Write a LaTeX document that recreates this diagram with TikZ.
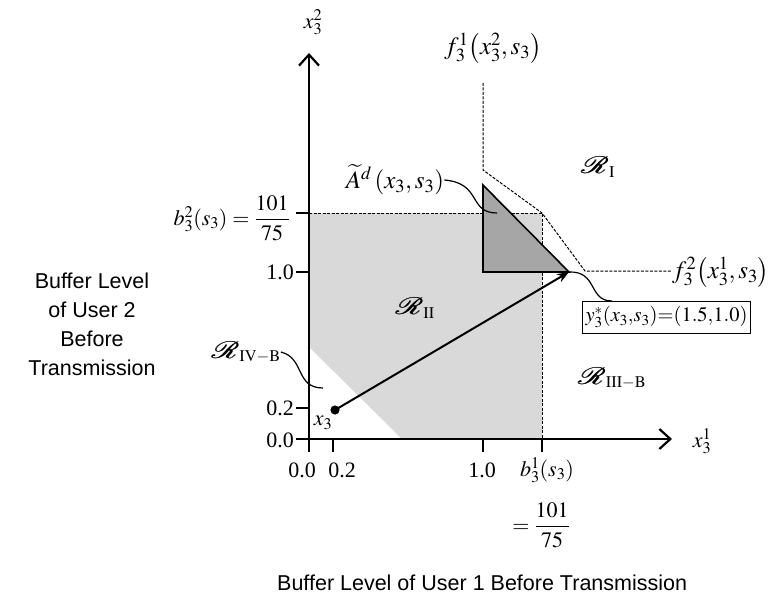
\documentclass[tikz,border=0pt]{standalone}
\usepackage{mathptmx}
\usepackage{mathrsfs}
\usepackage{graphicx}
\usepackage{fontspec}
\setmainfont{Liberation Serif}
\newfontfamily\arialfont{Liberation Sans}
\usetikzlibrary{arrows.meta}
\definecolor{lightreg}{HTML}{D9D9D9}
\definecolor{darkreg}{HTML}{A6A6A6}
\newcommand\scrR{\mbox{\scalebox{1.45}[1.15]{\rlap{$\mathscr{R}$}\kern0.5pt$\mathscr{R}$}}}
\tikzset{
  lbl/.style={font=\fontsize{22}{26}\selectfont, inner sep=0pt},
  biglbl/.style={font=\fontsize{25}{28}\selectfont, inner sep=0pt},
  sans/.style={font=\arialfont\fontsize{21.5}{29}\selectfont, align=center, inner sep=0pt},
  axisline/.style={line width=2.2pt, -{Straight Barb[length=11pt,width=20pt]}},
  tickline/.style={line width=1.6pt},
  guide/.style={line width=1pt, dash pattern=on 3pt off 1.5pt},
  leader/.style={line width=1.2pt},
  boxlbl/.style={draw, line width=1.2pt, font=\fontsize{20.5}{24}\selectfont, inner xsep=3pt, inner ysep=5pt},
}
\begin{document}
\begin{tikzpicture}[x=1pt,y=-1pt]
\useasboundingbox (0,0) rectangle (775,596);
% key coordinates
\coordinate (O) at (309,439);
\coordinate (ytip) at (309,53);
\coordinate (xtip) at (672,439);
\coordinate (ybot) at (309,452);
\coordinate (xleft) at (296,439);
% light region
\fill[lightreg] (309,213) -- (542,213) -- (542,439) -- (402,439) -- (309,347) -- cycle;
% b-level guides
\coordinate (b2l) at (309,213);
\coordinate (bc) at (542,213);
\coordinate (b1b) at (542,439);
\draw[guide] (b2l) -- (bc) -- (b1b);
% f curves
\coordinate (f1) at (483,83);
\coordinate (f2) at (483,170);
\coordinate (f3) at (542,213);
\coordinate (f4) at (585,271);
\coordinate (f5) at (672,271);
\draw[guide] (f1) -- (f2) -- (f3) -- (f4) -- (f5);
% dark triangle
\coordinate (ta) at (483,185);
\coordinate (tb) at (483,272);
\coordinate (tc) at (569,272);
\draw[fill=darkreg, line width=1.6pt] (ta) -- (tb) -- (tc) -- cycle;
% axes
\draw[axisline] (ybot) -- (ytip);
\draw[axisline] (xleft) -- (xtip);
% ticks
\coordinate (ty02a) at (296,408); \coordinate (ty02b) at (309,408);
\coordinate (ty10a) at (296,272); \coordinate (ty10b) at (309,272);
\coordinate (tybba) at (296,213); \coordinate (tybbb) at (309,213);
\draw[tickline] (ty02a) -- (ty02b);
\draw[tickline] (ty10a) -- (ty10b);
\draw[tickline] (tybba) -- (tybbb);
\coordinate (tx02a) at (333,439); \coordinate (tx02b) at (333,452);
\coordinate (tx10a) at (483,439); \coordinate (tx10b) at (483,452);
\coordinate (txbba) at (542,439); \coordinate (txbbb) at (542,452);
\draw[tickline] (tx02a) -- (tx02b);
\draw[tickline] (tx10a) -- (tx10b);
\draw[tickline] (txbba) -- (txbbb);
% vector
\coordinate (x3) at (335,410);
\draw[line width=2pt, -{Stealth[length=12pt,width=9pt]}] (x3) -- (tc);
\fill (x3) circle (4.6pt);
% labels
\node[lbl] (lx32) at (313,22) {$x_3^2$};
\node[lbl] (lx31) at (702,441) {$x_3^1$};
\node[biglbl] (lf1) at (493,48) {$f_3^1\bigl(x_3^2, s_3\bigr)$};
\node[biglbl, anchor=west] (lf2) at (672,272) {$f_3^2\bigl(x_3^1, s_3\bigr)$};
\node[lbl] (rI) at (598,167) {$\scrR_{\mathrm{I}}$};
\node[lbl] (rII) at (415,308) {$\scrR_{\mathrm{II}}$};
\node[lbl] (rIII) at (612,378) {$\scrR_{\mathrm{III-B}}$};
\node[lbl] (rIV) at (246,352) {$\scrR_{\mathrm{IV-B}}$};
\node[biglbl] (lA) at (395,180) {$\widetilde{A}^{d}\,(x_3, s_3)$};
\node[lbl, anchor=east] (lb2) at (290,218) {$b_3^2(s_3)=\displaystyle\frac{101}{75}$};
\node[lbl, anchor=east] (ly10) at (294,272) {1.0};
\node[lbl, anchor=east] (ly02) at (294,408) {0.2};
\node[lbl, anchor=east] (ly00) at (294,440) {0.0};
\node[lbl] (lx00) at (302,470) {0.0};
\node[lbl] (lx02) at (342,470) {0.2};
\node[lbl] (lx10) at (482,470) {1.0};
\node[lbl] (lb1) at (547,470) {$b_3^1(s_3)$};
\node[lbl] (lb1f) at (541,525) {$=\displaystyle\frac{101}{75}$};
\node[lbl] (lx3) at (323,423) {$x_3$};
\node[boxlbl, anchor=north west] (ybox) at (582,301) {$y_3^{*}(x_3{,}s_3){=}(1.5{,}1.0)$};
\node[sans] (ylab) at (92,324) {Buffer Level\\of User 2\\Before\\Transmission};
\node[sans, anchor=base west] (xlab) at (277,590) {Buffer Level of User 1 Before Transmission};
% leaders
\coordinate (lAend) at (497,213);
\coordinate (yboxtop) at (612,301);
\draw[leader] (lA.east) .. controls (482,183) and (468,213) .. (lAend);
\draw[leader] (tc) .. controls (598,271) and (588,301) .. (yboxtop);
\coordinate (rIVend) at (323,388);
\draw[leader] (rIV.east) .. controls (305,358) and (295,388) .. (rIVend);
\end{tikzpicture}
\end{document}
